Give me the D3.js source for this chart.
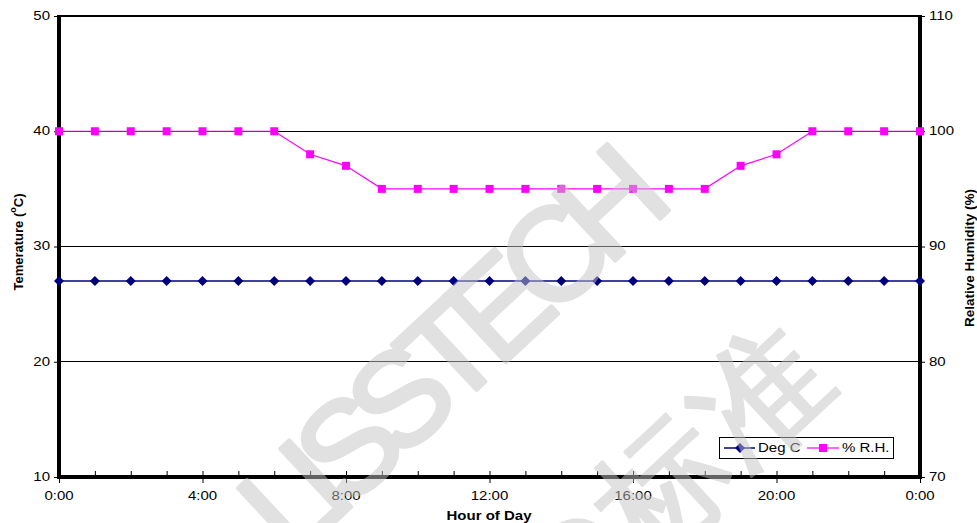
<!DOCTYPE html>
<html>
<head>
<meta charset="utf-8">
<script src="https://cdn.jsdelivr.net/npm/d3@7"></script>
<style>
  html, body { margin: 0; padding: 0; background: #fff; }
  svg { display: block; }
  text { font-family: "Liberation Sans", Arial, sans-serif; }
</style>
</head>
<body>
<svg id="chart" width="977" height="523"></svg>
<script>
// ---- data ----
const hours = d3.range(0, 25);                 // 0:00 .. 24:00 (0:00 next day)
const degC = [27,27,27,27,27,27,27,27,27,27,27,27,27,27,27,27,27,27,27,27,27,27,27,27,27];
const rh   = [100,100,100,100,100,100,100,98,97,95,95,95,95,95,95,95,95,95,95,97,98,100,100,100,100];
const xTickHours = [0,4,8,12,16,20,24];
const xTickLabels = ["0:00","4:00","8:00","12:00","16:00","20:00","0:00"];
const leftTicks = [10,20,30,40,50];
const rightTicks = [70,80,90,100,110];
const seriesNames = ["Deg C", "% R.H."];

// ---- layout ----
const svg = d3.select("#chart");
const L = 59, R = 920, T = 16, B = 477;
const x = d3.scaleLinear().domain([0,24]).range([L,R]);
const yL = d3.scaleLinear().domain([10,50]).range([B,T]);
const yR = d3.scaleLinear().domain([70,110]).range([B,T]);
const SX = 1.25; // horizontal stretch of text (reference is stretched)

function stretchedText(g, px, py, str, opts) {
  return g.append("text")
    .attr("transform", `translate(${px},${py}) scale(${SX},1)`)
    .attr("font-size", opts.size || 12)
    .attr("text-anchor", opts.anchor || "start")
    .attr("dominant-baseline", "central")
    .attr("font-weight", opts.weight || "normal")
    .attr("fill", opts.fill || "#000")
    .text(str);
}

// gridlines
svg.append("g").selectAll("line").data([20,30,40]).join("line")
  .attr("x1", L).attr("x2", R)
  .attr("y1", d => yL(d)).attr("y2", d => yL(d))
  .attr("stroke", "#000").attr("stroke-width", 1).attr("shape-rendering","crispEdges");

// top border
svg.append("line").attr("x1", L).attr("x2", R).attr("y1", T).attr("y2", T)
  .attr("stroke", "#000").attr("stroke-width", 2);

// left axis
const gL = svg.append("g").attr("transform", `translate(${L},0)`)
  .call(d3.axisLeft(yL).tickValues(leftTicks).tickSize(5).tickFormat(""));
gL.select(".domain").remove();
gL.selectAll(".tick line").attr("stroke","#000").attr("stroke-width",1);
leftTicks.forEach(v => stretchedText(svg, 50, yL(v), String(v), {size: 12, anchor: "end"}));

// right axis
const gR = svg.append("g").attr("transform", `translate(${R},0)`)
  .call(d3.axisRight(yR).tickValues(rightTicks).tickSize(5).tickFormat(""));
gR.select(".domain").remove();
gR.selectAll(".tick line").attr("stroke","#000").attr("stroke-width",1);
rightTicks.forEach(v => stretchedText(svg, 929, yR(v), String(v), {size: 12, anchor: "start"}));

// bottom axis: minor ticks inside each hour, major crossing at 4h
const gBm = svg.append("g").attr("transform", `translate(0,${B})`)
  .call(d3.axisTop(x).tickValues(hours).tickSize(6).tickFormat(""));
gBm.select(".domain").remove();
gBm.selectAll(".tick line").attr("stroke","#000").attr("stroke-width",1);
const gB = svg.append("g").attr("transform", `translate(0,${B})`)
  .call(d3.axisBottom(x).tickValues(xTickHours).tickSize(6).tickFormat(""));
gB.select(".domain").remove();
gB.selectAll(".tick line").attr("stroke","#000").attr("stroke-width",1);
xTickHours.forEach((h,i) => stretchedText(svg, x(h), 496, xTickLabels[i], {size: 12, anchor: "middle"}));

// thick axis lines
svg.append("line").attr("x1", L).attr("x2", L).attr("y1", T-1).attr("y2", B+2)
  .attr("stroke","#000").attr("stroke-width",4);
svg.append("line").attr("x1", R).attr("x2", R).attr("y1", T-1).attr("y2", B+2)
  .attr("stroke","#000").attr("stroke-width",4);
svg.append("line").attr("x1", L-2).attr("x2", R+2).attr("y1", B).attr("y2", B)
  .attr("stroke","#000").attr("stroke-width",4);

// axis titles
stretchedText(svg, 489, 516, "Hour of Day", {size: 12, anchor: "middle", weight: "bold"});
const tl = svg.append("text")
  .attr("transform", "translate(18,242) rotate(-90)")
  .attr("text-anchor","middle").attr("dominant-baseline","central")
  .attr("font-size", 13).attr("font-weight","bold");
tl.append("tspan").text("Temerature (");
tl.append("tspan").attr("font-size", 9).attr("dy", -5).text("o");
tl.append("tspan").attr("dy", 5).text("C)");
svg.append("text")
  .attr("transform", "translate(969,258) rotate(-90)")
  .attr("text-anchor","middle").attr("dominant-baseline","central")
  .attr("font-size", 13.5).attr("font-weight","bold")
  .text("Relative Humidity (%)");

// series
const navy = "#000080", mag = "#FF00FF";
const lineT = d3.line().x((d,i) => x(hours[i])).y(d => yL(d));
const lineH = d3.line().x((d,i) => x(hours[i])).y(d => yR(d));
svg.append("path").datum(degC).attr("d", lineT).attr("fill","none")
  .attr("stroke", navy).attr("stroke-width", 1.5);
svg.append("path").datum(rh).attr("d", lineH).attr("fill","none")
  .attr("stroke", mag).attr("stroke-width", 1.2);

const diamond = d3.symbol().type(d3.symbolDiamond2).size(64);
svg.append("g").selectAll("path").data(degC).join("path")
  .attr("d", diamond)
  .attr("transform", (d,i) => `translate(${x(hours[i])},${yL(d)})`)
  .attr("fill", navy);
svg.append("g").selectAll("rect").data(rh).join("rect")
  .attr("x", (d,i) => x(hours[i]) - 4).attr("y", d => yR(d) - 4)
  .attr("width", 8).attr("height", 8).attr("fill", mag);

// legend
const lg = svg.append("g");
lg.append("rect").attr("x", 719.5).attr("y", 437.5).attr("width", 174).attr("height", 21)
  .attr("fill","#fff").attr("stroke","#000").attr("stroke-width",1);
lg.append("line").attr("x1",724).attr("x2",755).attr("y1",448).attr("y2",448)
  .attr("stroke", navy).attr("stroke-width",1.5);
lg.append("path").attr("d", diamond).attr("transform","translate(740,448)").attr("fill", navy);
stretchedText(lg, 758, 448.5, seriesNames[0], {size: 12});
lg.append("line").attr("x1",807).attr("x2",839).attr("y1",448).attr("y2",448)
  .attr("stroke", mag).attr("stroke-width",1.2);
lg.append("rect").attr("x",819).attr("y",444).attr("width",8).attr("height",8).attr("fill", mag);
stretchedText(lg, 842, 448.5, seriesNames[1], {size: 12});

// watermark
const wm = svg.append("g").attr("pointer-events","none").attr("opacity", 0.5);
wm.append("text")
  .attr("transform","translate(292,562) rotate(-43)")
  .attr("font-size", 132)
  .attr("fill", "#c4c4c4").attr("stroke", "#c4c4c4").attr("stroke-width", 4)
  .attr("stroke-linejoin","round")
  .attr("letter-spacing", -17)
  .text("LISSTECH");
wm.append("text")
  .attr("transform","translate(572,636) rotate(-43)")
  .attr("font-size", 132)
  .attr("fill", "#c4c4c4").attr("stroke", "#c4c4c4").attr("stroke-width", 3)
  .attr("stroke-linejoin","round")
  .attr("font-family", "Noto Sans CJK SC")
  .text("O标准");
</script>
</body>
</html>
